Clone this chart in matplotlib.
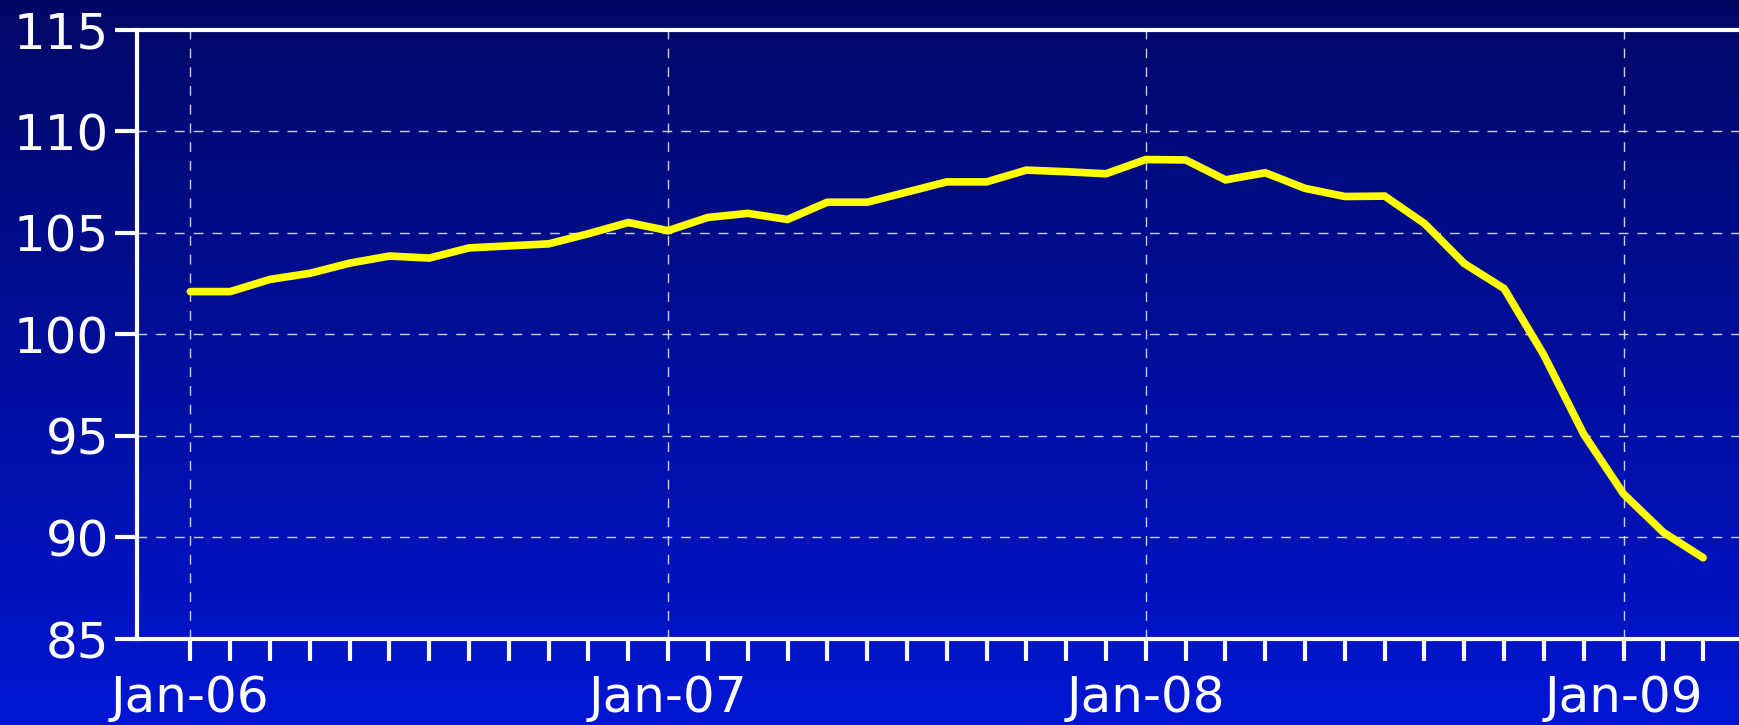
import matplotlib
matplotlib.use('Agg')
import matplotlib.pyplot as plt
import numpy as np
from matplotlib.colors import LinearSegmentedColormap

# monthly index, Jan-06 .. Mar-09
months = ['Jan-06', 'Feb-06', 'Mar-06', 'Apr-06', 'May-06', 'Jun-06', 'Jul-06', 'Aug-06',
          'Sep-06', 'Oct-06', 'Nov-06', 'Dec-06',
          'Jan-07', 'Feb-07', 'Mar-07', 'Apr-07', 'May-07', 'Jun-07', 'Jul-07', 'Aug-07',
          'Sep-07', 'Oct-07', 'Nov-07', 'Dec-07',
          'Jan-08', 'Feb-08', 'Mar-08', 'Apr-08', 'May-08', 'Jun-08', 'Jul-08', 'Aug-08',
          'Sep-08', 'Oct-08', 'Nov-08', 'Dec-08',
          'Jan-09', 'Feb-09', 'Mar-09']
values = [102.1, 102.1, 102.7, 103.0, 103.5, 103.85, 103.75, 104.25, 104.35, 104.45, 104.95, 105.5,
          105.1, 105.75, 105.95, 105.65, 106.5, 106.5, 107.0, 107.5, 107.5, 108.08, 108.0, 107.9,
          108.6, 108.58, 107.6, 107.95, 107.18, 106.78, 106.8, 105.45, 103.48, 102.25, 98.97, 95.08,
          92.14, 90.25, 89.0]
year_labels = ['Jan-06', 'Jan-07', 'Jan-08', 'Jan-09']
y_ticks = [85, 90, 95, 100, 105, 110, 115]

x = np.arange(len(months))
year_pos = [months.index(m) for m in year_labels]

fig = plt.figure(figsize=(17.39, 7.25), dpi=100)

# gradient background, dark navy at top to bright blue at bottom
bg = fig.add_axes([0, 0, 1, 1], zorder=-1)
cmap = LinearSegmentedColormap.from_list('bg', ['#000866', '#0016D2'])
bg.imshow(np.linspace(0, 1, 256).reshape(-1, 1), aspect='auto', cmap=cmap,
          extent=[0, 1, 0, 1], origin='upper')
bg.axis('off')

ax = fig.add_axes([0.0788, 0.1186, 1 - 0.0788, 0.8407])
ax.patch.set_visible(False)

ax.plot(x, values, color='#FFFF00', lw=5.5, solid_capstyle='round', solid_joinstyle='miter', zorder=3)

ax.set_xlim(-1.34, 38.9)
ax.set_ylim(85, 115)

ax.set_xticks(year_pos)
ax.set_xticklabels(year_labels)
ax.set_xticks(x, minor=True)
ax.set_yticks(y_ticks)

for s in ['top', 'left', 'bottom']:
    ax.spines[s].set_color('white')
    ax.spines[s].set_linewidth(3)
ax.spines['right'].set_visible(False)

ax.tick_params(axis='x', which='both', direction='out', length=16, width=3, color='white')
ax.tick_params(axis='x', which='major', labelsize=36, labelcolor='white', pad=9)
ax.tick_params(axis='y', direction='out', length=16, width=3, color='white',
               labelsize=36, labelcolor='white', pad=4)

ax.grid(True, which='major', color='white', alpha=0.8, lw=1, linestyle=(0, (7, 6.5)))

plt.savefig('out.png', dpi=100)
